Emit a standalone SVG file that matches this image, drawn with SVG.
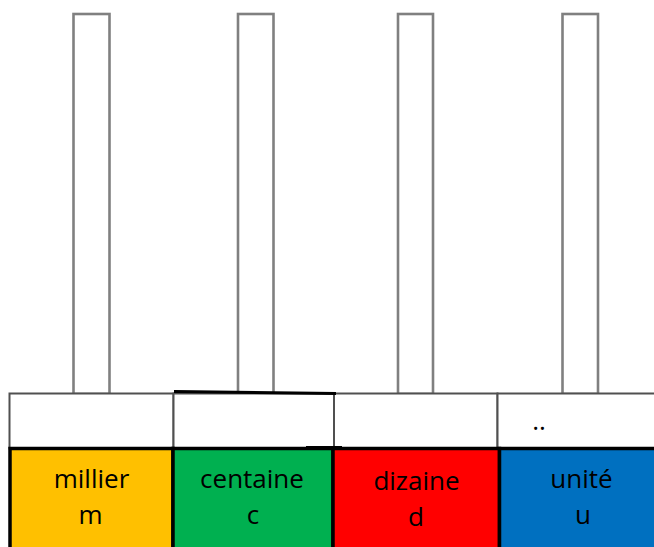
<svg xmlns="http://www.w3.org/2000/svg" width="654" height="547" viewBox="0 0 654 547">
<style>
.rod{fill:#fff;stroke:#808080;stroke-width:2.6}
.cell{fill:#fff;stroke:#505050;stroke-width:2}
.col{stroke:#000;stroke-width:3.5}
.lbl{font-family:"Open Sans","Liberation Sans",sans-serif;font-size:26px;fill:#000;text-anchor:middle}
</style>
<rect width="654" height="547" fill="#fff"/>
<g id="rods">
<rect class="rod" x="73.5" y="14" width="36" height="380"/>
<rect class="rod" x="238" y="14" width="35.5" height="380"/>
<rect class="rod" x="398" y="14" width="35" height="380"/>
<rect class="rod" x="562.5" y="14" width="35.5" height="380"/>
</g>
<g id="cells">
<rect class="cell" x="9.5" y="393.5" width="164" height="55"/>
<rect class="cell" x="173.5" y="393.5" width="160.5" height="55"/>
<rect class="cell" x="334" y="393.5" width="163.5" height="55"/>
<rect class="cell" x="497.5" y="393.5" width="170" height="55"/>
<path d="M174,391.5 L336,393.5" stroke="#000" stroke-width="3.2" fill="none"/>
<path d="M306,447.5 L342,447.5" stroke="#000" stroke-width="3" fill="none"/>
<text class="lbl" x="539" y="430">..</text>
</g>
<g id="millier">
<rect class="col" x="10" y="448.5" width="163" height="110" fill="#FFC000"/>
<text class="lbl" x="91.5" y="488">millier</text>
<text class="lbl" x="90.5" y="523.5">m</text>
</g>
<g id="centaine">
<rect class="col" x="173" y="448.5" width="160" height="110" fill="#00B050"/>
<text class="lbl" x="252" y="488">centaine</text>
<text class="lbl" x="253" y="523.5">c</text>
</g>
<g id="dizaine">
<rect class="col" x="333" y="448.5" width="166.5" height="110" fill="#FF0000"/>
<text class="lbl" x="416.5" y="489.5">dizaine</text>
<text class="lbl" x="416" y="525.5">d</text>
</g>
<g id="unite">
<rect class="col" x="499.5" y="448.5" width="170" height="110" fill="#0070C0"/>
<text class="lbl" x="581.5" y="487.5">unité</text>
<text class="lbl" x="583" y="523.5">u</text>
</g>
</svg>
